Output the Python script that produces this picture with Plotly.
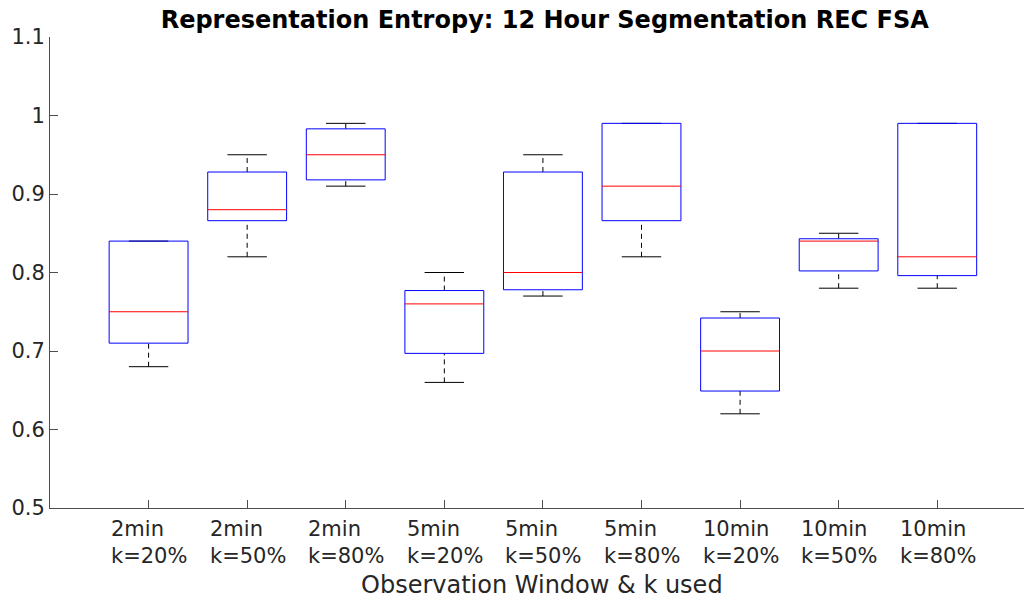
import plotly.graph_objects as go

# Data
windows = ["2min", "2min", "2min", "5min", "5min", "5min", "10min", "10min", "10min"]
kvals = ["k=20%", "k=50%", "k=80%", "k=20%", "k=50%", "k=80%", "k=20%", "k=50%", "k=80%"]
lower_whisker = [0.68, 0.82, 0.91, 0.66, 0.77, 0.82, 0.62, 0.78, 0.78]
q1 = [0.71, 0.866, 0.918, 0.697, 0.778, 0.866, 0.649, 0.802, 0.796]
median = [0.75, 0.88, 0.95, 0.76, 0.80, 0.91, 0.70, 0.84, 0.82]
q3 = [0.84, 0.928, 0.983, 0.777, 0.928, 0.99, 0.742, 0.843, 0.99]
upper_whisker = [0.84, 0.95, 0.99, 0.80, 0.95, 0.99, 0.75, 0.85, 0.99]

positions = list(range(1, len(windows) + 1))
ticktext = [f"{w}<br>{k}" for w, k in zip(windows, kvals)]

box_half = 0.4
cap_half = 0.2

bx, by = [], []
mx, my = [], []
wx, wy = [], []
cx, cy = [], []
for p, lw, a, m, b, uw in zip(positions, lower_whisker, q1, median, q3, upper_whisker):
    bx += [p - box_half, p + box_half, p + box_half, p - box_half, p - box_half, None]
    by += [a, a, b, b, a, None]
    mx += [p - box_half, p + box_half, None]
    my += [m, m, None]
    if uw > b:
        wx += [p, p, None]
        wy += [b, uw, None]
    if lw < a:
        wx += [p, p, None]
        wy += [lw, a, None]
    cx += [p - cap_half, p + cap_half, None, p - cap_half, p + cap_half, None]
    cy += [uw, uw, None, lw, lw, None]

fig = go.Figure()
fig.add_trace(go.Scatter(x=wx, y=wy, mode="lines",
                         line=dict(color="black", width=1, dash="5px,4px"),
                         hoverinfo="skip", showlegend=False))
fig.add_trace(go.Scatter(x=cx, y=cy, mode="lines",
                         line=dict(color="black", width=1),
                         hoverinfo="skip", showlegend=False))
fig.add_trace(go.Scatter(x=bx, y=by, mode="lines",
                         line=dict(color="#0000ff", width=1),
                         hoverinfo="skip", showlegend=False))
fig.add_trace(go.Scatter(x=mx, y=my, mode="lines",
                         line=dict(color="#ff0000", width=1),
                         hoverinfo="skip", showlegend=False))

# Left-aligned multi-line category labels (MATLAB style)
for p, t in zip(positions, ticktext):
    fig.add_annotation(x=p - box_half, xref="x", y=0, yref="paper",
                       xanchor="left", yanchor="top", align="left",
                       text=t, showarrow=False, yshift=-7,
                       font=dict(family="DejaVu Sans", size=21, color="#262626"))

fig.add_annotation(x=0.505, xref="paper", y=0, yref="paper",
                   xanchor="center", yanchor="top",
                   text="Observation Window & k used", showarrow=False, yshift=-61,
                   font=dict(family="DejaVu Sans", size=24, color="#262626"))

axis_color = "#4d4d4d"
fig.update_layout(
    width=1024, height=599,
    margin=dict(l=50, r=0, t=37, b=91),
    plot_bgcolor="white", paper_bgcolor="white",
    font=dict(family="DejaVu Sans", color="#262626"),
    title=dict(text="<b>Representation Entropy: 12 Hour Segmentation REC FSA</b>",
               x=0.532, xanchor="center", y=0.968, yanchor="middle",
               font=dict(family="DejaVu Sans", size=24, color="black")),
    xaxis=dict(range=[0, 9.88], tickmode="array", tickvals=positions,
               showticklabels=False,
               showline=True, linecolor=axis_color, linewidth=1,
               ticks="inside", ticklen=8, tickcolor=axis_color,
               showgrid=False, zeroline=False),
    yaxis=dict(range=[0.5, 1.1], tickmode="array",
               tickvals=[0.5, 0.6, 0.7, 0.8, 0.9, 1.0, 1.1],
               ticktext=["0.5", "0.6", "0.7", "0.8", "0.9", "1", "1.1"],
               showline=True, linecolor=axis_color, linewidth=1,
               ticks="inside", ticklen=8, tickcolor=axis_color,
               showgrid=False, zeroline=False, tickfont=dict(size=21)),
)

fig.write_html("out.html")
